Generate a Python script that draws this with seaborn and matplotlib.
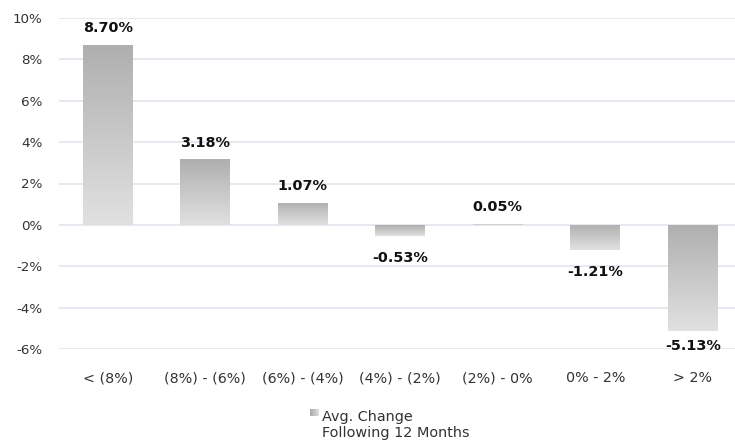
import numpy as np
import pandas as pd
import matplotlib
matplotlib.use("Agg")
import matplotlib.pyplot as plt
from matplotlib.colors import LinearSegmentedColormap
import seaborn as sns

categories = ["< (8%)", "(8%) - (6%)", "(6%) - (4%)", "(4%) - (2%)", "(2%) - 0%", "0% - 2%", "> 2%"]
avg_change = [8.70, 3.18, 1.07, -0.53, 0.05, -1.21, -5.13]
y_ticks = [-6, -4, -2, 0, 2, 4, 6, 8, 10]
legend_label = "Avg. Change\nFollowing 12 Months"

df = pd.DataFrame({"bucket": categories, "change": avg_change})

sns.set_theme(style="white")
plt.rcParams["font.family"] = ["DejaVu Sans"]

fig = plt.figure(figsize=(7.35, 4.42), dpi=100)
ax = fig.add_axes([59 / 735, 1 - 349 / 442, (741.5 - 59) / 735, (349 - 18) / 442])

sns.barplot(data=df, x="bucket", y="change", color="#c8c8c8", width=0.51,
            ax=ax, zorder=2, saturation=1)

# vertical grey gradient inside each bar: darker at the top edge, lighter below
grad = LinearSegmentedColormap.from_list("bar_grad", ["#afafaf", "#e1e1e1"])
ramp = np.linspace(0, 1, 256).reshape(-1, 1)
for patch in ax.patches:
    x0, y0 = patch.get_x(), patch.get_y()
    w, h = patch.get_width(), patch.get_height()
    lo, hi = min(y0, y0 + h), max(y0, y0 + h)
    patch.set_facecolor("none")
    patch.set_edgecolor("none")
    img = ax.imshow(ramp, cmap=grad, aspect="auto", extent=(x0, x0 + w, lo, hi),
                    origin="upper", zorder=2, interpolation="bicubic")
    img.set_clip_path(patch)

ax.set_xlim(-0.5, len(categories) - 0.5)
ax.set_ylim(-6, 10)
ax.set_yticks(y_ticks)
ax.set_yticklabels([f"{t}%" for t in y_ticks])
ax.yaxis.grid(True, color="#e2e5ec", linewidth=1.2, zorder=0)
ax.xaxis.grid(False)
for s in ax.spines.values():
    s.set_visible(False)
ax.tick_params(axis="y", length=0, pad=12, labelsize=9.7, labelcolor="#333333")
ax.tick_params(axis="x", length=0, pad=16, labelsize=10.3, labelcolor="#333333")
ax.set_xlabel("")
ax.set_ylabel("")

# value labels
for i, v in enumerate(avg_change):
    if v >= 0:
        ypos = v + 0.80
    else:
        ypos = max(v - 1.06, -5.84)
    ax.text(i, ypos, f"{v:.2f}%", ha="center", va="center", fontsize=10.4,
            fontweight="bold", color="#111111", zorder=3)

# legend: gradient swatch and two-line label
sw = fig.add_axes([310 / 735, 1 - 416.5 / 442, 9 / 735, 7.5 / 442])
sw.imshow(ramp.T, cmap=LinearSegmentedColormap.from_list("sw", ["#a8a8a8", "#e0e0e0"]),
          aspect="auto")
sw.axis("off")
for k, line in enumerate(legend_label.split("\n")):
    fig.text(322 / 735, 1 - (416.5 + 17 * k) / 442, line, ha="left", va="center",
             fontsize=10.4, color="#333333")

fig.savefig("out.png", dpi=100, facecolor="white")
